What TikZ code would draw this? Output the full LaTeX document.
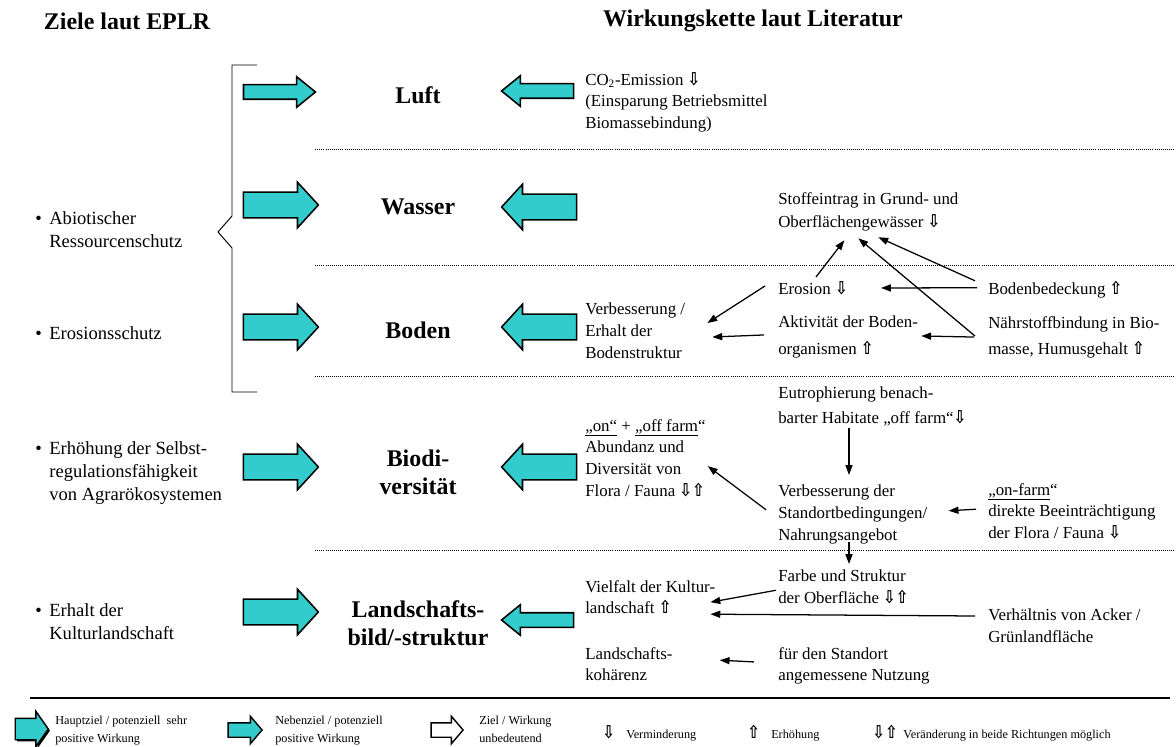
\documentclass[tikz,border=0pt]{standalone}
\usepackage{fontspec}
\setmainfont{Liberation Serif}
\newfontfamily\symfont{DejaVu Sans}
\usetikzlibrary{shapes.arrows,arrows.meta,shadows}
\definecolor{tuerkis}{RGB}{51,204,204}
\newcommand{\runter}{{\symfont\bfseries\scalebox{0.9}[1.05]{⇩}}}
\newcommand{\hoch}{{\symfont\bfseries\scalebox{0.9}[1.05]{⇧}}}
\newcommand{\zp}{\makebox[10pt][l]{\textbullet}}

\begin{document}
\begin{tikzpicture}[x=0.025cm, y=-0.025cm,
    titel/.style={inner sep=0pt, font=\fontsize{17}{20}\selectfont\bfseries},
    thema/.style={inner sep=0pt, align=center, font=\fontsize{17}{20}\selectfont\bfseries},
    ziel/.style={anchor=north west, inner sep=0pt, align=left, font=\fontsize{13.2}{16.3}\selectfont},
    txt/.style={anchor=north west, inner sep=0pt, align=left, font=\fontsize{12}{15.5}\selectfont},
    leg/.style={anchor=north west, inner sep=0pt, align=left, font=\fontsize{8.7}{12.6}\selectfont},
    haupt/.style={single arrow, draw=black, line width=1.1pt, fill=tuerkis, inner sep=0.3cm,
        minimum height=1.875cm, single arrow head extend=0.25cm, single arrow tip angle=95},
    neben/.style={single arrow, draw=black, line width=1.1pt, fill=tuerkis, inner sep=0.1625cm,
        minimum height=1.8cm, single arrow head extend=0.2cm, single arrow tip angle=78},
    wirkt/.style={-{Triangle[length=7pt,width=5pt]}, line width=0.9pt},
    punkt/.style={line width=0.6pt, dash pattern=on 0.6pt off 0.9pt}]
    \useasboundingbox (0,0) rectangle (1176,747);

    \node[titel] (tz) at (127,21) {Ziele laut EPLR};
    \node[titel] (tw) at (753,21) {Wirkungskette laut Literatur};

    % Ziele
    \node[ziel] (zabio) at (35,211) {\zp Abiotischer\\\hspace*{10pt}Ressourcenschutz};
    \node[ziel] (zeros) at (35,326) {\zp Erosionsschutz};
    \node[ziel] (zselbst) at (35,441) {\zp Erhöhung der Selbst-\\\hspace*{10pt}regulationsfähigkeit\\\hspace*{10pt}von Agrarökosystemen};
    \node[ziel] (zkultur) at (35,603) {\zp Erhalt der\\\hspace*{10pt}Kulturlandschaft};
    \draw[line width=0.7pt] (257,65) -- (232,65) -- (232,216) -- (218,232) -- (232,248) -- (232,392) -- (257,392);

    % Schutzgueter
    \node[thema] (luft) at (418,95) {Luft};
    \node[thema] (wasser) at (418,207) {Wasser};
    \node[thema] (boden) at (418,330) {Boden};
    \node[thema] (biodiv) at (418,472) {Biodi-\\versität};
    \node[thema] (landbild) at (418,623) {Landschafts-\\bild/-struktur};

    \node[neben] (lp1) at (275,92) {};
    \node[haupt] (lp2) at (275,205) {};
    \node[haupt] (lp3) at (275,327) {};
    \node[haupt] (lp4) at (275,467) {};
    \node[haupt] (lp5) at (275,612) {};
    \node[neben, shape border rotate=180] (rp1) at (542,91) {};
    \node[haupt, shape border rotate=180] (rp2) at (545,207) {};
    \node[haupt, shape border rotate=180] (rp3) at (545,327) {};
    \node[haupt, shape border rotate=180] (rp4) at (545,467) {};
    \node[neben, shape border rotate=180] (rp5) at (542,620) {};

    \foreach \y in {149,265,376,550}
        \draw[punkt] (315,\y) -- (1176,\y);

    % Wirkungskette
    \node[txt] (co2) at (585,72) {CO\textsubscript{2}-Emission \runter\\(Einsparung Betriebsmittel\\Biomassebindung)};
    \node[txt] (stoff) at (778,192) {Stoffeintrag in Grund- und\\[1pt]Oberflächengewässer \runter};
    \node[txt] (ero) at (778,281) {Erosion \runter};
    \node[txt] (bodbed) at (988,281) {Bodenbedeckung \hoch};
    \node[txt] (bodstr) at (585,303) {Verbesserung /\\Erhalt der\\Bodenstruktur};
    \node[txt] (aktiv) at (778,316) {Aktivität der Boden-\\[3pt]organismen \hoch};
    \node[txt] (naehr) at (988,316) {Nährstoffbindung in Bio-\\[3pt]masse, Humusgehalt \hoch};
    \node[txt] (eutro) at (778,387) {Eutrophierung benach-\\[2pt]barter Habitate „off farm“\runter};
    \node[txt] (flora) at (585,419) {\underline{„on“} + \underline{„off farm}“\\Abundanz und\\Diversität von\\Flora / Fauna \runter\hoch};
    \node[txt] (standort) at (778,485) {Verbesserung der\\Standortbedingungen/\\Nahrungsangebot};
    \node[txt] (onfarm) at (988,483) {\underline{„on-farm}“\\direkte Beeinträchtigung\\der Flora / Fauna \runter};
    \node[txt] (farbe) at (778,570) {Farbe und Struktur\\der Oberfläche \runter\hoch};
    \node[txt] (vielfalt) at (585,580) {Vielfalt der Kultur-\\landschaft \hoch};
    \node[txt] (verh) at (988,609) {Verhältnis von Acker /\\Grünlandfläche};
    \node[txt] (kohaer) at (585,647) {Landschafts-\\kohärenz};
    \node[txt] (nutzung) at (778,647) {für den Standort\\angemessene Nutzung};

    \draw[wirkt] ([shift={(3,-4)}]ero.north) -- ([shift={(-24,9)}]stoff.south);
    \draw[wirkt] ([shift={(-13,-1)}]naehr.west) -- ([shift={(-10,7)}]stoff.south);
    \draw[wirkt] ([shift={(-13,-9)}]bodbed.west) -- ([shift={(10,6)}]stoff.south);
    \draw[wirkt] ([shift={(-11,-2)}]bodbed.west) -- ([shift={(33,0)}]ero.east);
    \draw[wirkt] ([shift={(-13,-2)}]ero.west) -- ([shift={(22,-8)}]bodstr.east);
    \draw[wirkt] ([shift={(-14,-2)}]aktiv.west) -- ([shift={(27,6)}]bodstr.east);
    \draw[wirkt] ([shift={(-14,0)}]naehr.west) -- ([shift={(3,-1)}]aktiv.east);
    \draw[wirkt] ([shift={(71,2)}]eutro.south west) -- ([shift={(71,-10)}]standort.north west);
    \draw[wirkt] ([shift={(-12,-5)}]standort.west) -- ([shift={(2,8)}]flora.east);
    \draw[wirkt] ([shift={(-12,-2)}]onfarm.west) -- ([shift={(21,-4)}]standort.east);
    \draw[wirkt] ([shift={(71,-3)}]standort.south west) -- ([shift={(71,-6)}]farbe.north west);
    \draw[wirkt] ([shift={(-2,3)}]farbe.west) -- ([shift={(-5,5)}]vielfalt.east);
    \draw[wirkt] ([shift={(-13,7)}]verh.north west) -- ([shift={(-5,17)}]vielfalt.east);
    \draw[wirkt] ([shift={(-24,-4)}]nutzung.west) -- ([shift={(47,-4)}]kohaer.east);

    % Legende
    \draw[line width=1.3pt] (30,698) -- (1170,698);
    \node[single arrow, draw=black, line width=1pt, fill=tuerkis, inner sep=0.25cm, minimum height=0.825cm,
        single arrow head extend=0.175cm, single arrow tip angle=110,
        drop shadow={shadow xshift=1.2pt, shadow yshift=-1.2pt, opacity=1, fill=black}] (lg1) at (28,729) {};
    \node[single arrow, draw=black, line width=1pt, fill=tuerkis, inner sep=0.1625cm, minimum height=0.85cm,
        single arrow head extend=0.1625cm, single arrow tip angle=99] (lg2) at (242,730) {};
    \node[single arrow, draw=black, line width=1pt, fill=white, inner sep=0.1625cm, minimum height=0.8cm,
        single arrow head extend=0.1625cm, single arrow tip angle=99] (lg3) at (444,730) {};
    \node[leg] (lt1) at (55,716) {Hauptziel / potenziell\ \ sehr\\positive Wirkung};
    \node[leg] (lt2) at (275,716) {Nebenziel / potenziell\\positive Wirkung};
    \node[leg] (lt3) at (479,716) {Ziel / Wirkung\\unbedeutend};
    \node[leg, anchor=west] (lt4) at (602,733) {{\fontsize{12}{12}\selectfont\runter}\hspace{8pt}Verminderung};
    \node[leg, anchor=west] (lt5) at (747,733) {{\fontsize{12}{12}\selectfont\hoch}\hspace{8pt}Erhöhung};
    \node[leg, anchor=west] (lt6) at (872,733) {{\fontsize{12}{12}\selectfont\runter\hoch}\hspace{4pt}Veränderung in beide Richtungen möglich};
\end{tikzpicture}
\end{document}
